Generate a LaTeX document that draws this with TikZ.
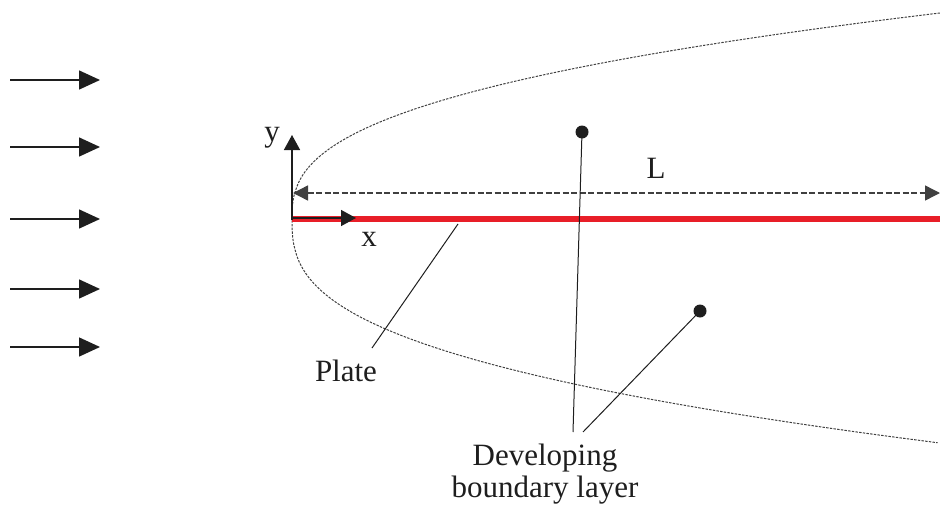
\documentclass[tikz,border=0pt]{standalone}
\usepackage{fontspec}
\setmainfont{Liberation Serif}
\usetikzlibrary{arrows.meta}
\definecolor{platered}{RGB}{232,30,40}
\definecolor{ink}{RGB}{30,30,30}
\tikzset{
  flow/.style={draw=ink,line width=1.5pt,-{Triangle[length=21pt,width=19pt]}},
  axis/.style={draw=ink,line width=1.5pt,-{Triangle[length=15pt,width=16pt]}},
  dim/.style={draw=ink!85,line width=1.4pt,dash pattern=on 6pt off 2.5pt,{Triangle[length=15pt,width=15pt]}-{Triangle[length=15pt,width=15pt]}},
  leader/.style={draw=ink,line width=1pt},
  bl/.style={draw=ink!85,line width=1pt,dash pattern=on 2.4pt off 1.3pt},
  lbl/.style={font=\fontsize{31}{35}\selectfont,text=ink,inner sep=0pt},
  dot/.style={circle,fill=ink,inner sep=0pt,minimum size=13pt},
}
\begin{document}
\begin{tikzpicture}[x=1pt,y=-1pt]
\useasboundingbox (0,0) rectangle (940,506);
% free-stream arrows
\foreach \yy [count=\i] in {80,147,219,289,347}{
  \coordinate (fs\i) at (10,\yy);
  \coordinate (fe\i) at (100,\yy);
  \draw[flow] (fs\i) -- (fe\i);
}
% boundary layer edge
\draw[bl] plot[domain=1:0.004,samples=140] ({292+648*\x^2.65},{219-206*\x})
  -- (292,219)
  -- plot[domain=0.004:1,samples=140] ({292+648*\x^2.72},{219+224*\x});
% plate
\coordinate (O) at (292,219);
\coordinate (plateEnd) at (940,219);
\draw[platered,line width=6pt] (O) -- (plateEnd);
% axes
\coordinate (yTip) at (292,135);
\coordinate (xTip) at (356,218);
\coordinate (O2) at (292,218);
\draw[axis] (292,220) -- (yTip);
\draw[axis] (O2) -- (xTip);
\node[lbl] (ylab) at (272,138) {y};
\node[lbl,anchor=base] (xlab) at (369,246) {x};
% dimension L
\coordinate (La) at (293,193);
\coordinate (Lb) at (940,193);
\draw[dim] (La) -- (Lb);
\node[lbl,anchor=base] (Llab) at (656,178) {L};
% labels
\node[lbl,anchor=base] (plate) at (346,381) {Plate};
\node[lbl,anchor=base] (dev1) at (545,465) {Developing};
\node[lbl,anchor=base] (dev2) at (545,497) {boundary layer};
% leader lines
\coordinate (pA) at (458,224);
\coordinate (pB) at (372,348);
\draw[leader] (pA) -- (pB);
\node[dot] (d1) at (582,132) {};
\node[dot] (d2) at (700,311) {};
\coordinate (e1) at (573,432);
\coordinate (e2) at (583,432);
\draw[leader] (d1.center) -- (e1);
\draw[leader] (d2.center) -- (e2);
\end{tikzpicture}
\end{document}
